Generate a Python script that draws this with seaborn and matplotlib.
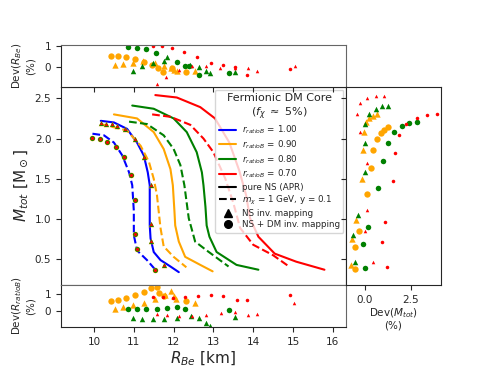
import numpy as np
import pandas as pd
import matplotlib
matplotlib.use("Agg")
import matplotlib.pyplot as plt
import seaborn as sns
from matplotlib.lines import Line2D

# ---- curvas M-R (R_Be en km, M_tot en M_sun)
r_ns_100 = [10.17, 10.5, 10.83, 11.08, 11.25, 11.35, 11.4, 11.4, 11.42, 11.5, 11.67, 11.92, 12.13]
m_ns_100 = [2.22, 2.20, 2.12, 1.95, 1.79, 1.58, 1.42, 0.92, 0.76, 0.59, 0.49, 0.41, 0.34]
r_dm_100 = [9.96, 10.25, 10.5, 10.71, 10.88, 10.96, 11.0, 11.0, 11.08, 11.33, 11.54]
m_dm_100 = [2.06, 2.04, 1.95, 1.79, 1.58, 1.42, 1.1, 0.80, 0.61, 0.49, 0.37]

r_ns_090 = [10.5, 11.08, 11.5, 11.75, 11.92, 11.98, 12.02, 12.04, 12.13, 12.29, 12.67, 12.98]
m_ns_090 = [2.30, 2.25, 2.08, 1.87, 1.62, 1.42, 1.1, 0.92, 0.72, 0.53, 0.43, 0.35]
r_dm_090 = [10.17, 10.83, 11.17, 11.38, 11.5, 11.58, 11.67, 11.75, 12.0, 12.32]
m_dm_090 = [2.18, 2.10, 1.91, 1.71, 1.50, 1.30, 0.89, 0.66, 0.53, 0.40]

r_ns_080 = [10.96, 11.5, 12.0, 12.33, 12.58, 12.71, 12.75, 12.8, 12.83, 12.9, 13.08, 13.58, 14.13]
m_ns_080 = [2.41, 2.37, 2.25, 2.08, 1.83, 1.58, 1.42, 1.15, 0.92, 0.78, 0.59, 0.43, 0.37]
r_dm_080 = [10.88, 11.33, 11.75, 12.0, 12.17, 12.27, 12.38, 12.54, 12.83, 13.38]
m_dm_080 = [2.21, 2.18, 2.04, 1.87, 1.67, 1.42, 1.01, 0.72, 0.61, 0.41]

r_ns_070 = [11.54, 12.08, 12.67, 13.04, 13.4, 13.65, 13.82, 13.92, 14.13, 14.54, 15.08, 15.79]
m_ns_070 = [2.54, 2.51, 2.39, 2.25, 1.95, 1.6, 1.3, 1.01, 0.78, 0.57, 0.47, 0.37]
r_dm_070 = [11.46, 11.92, 12.42, 12.75, 13.0, 13.3, 13.5, 13.67, 14.0, 14.5, 14.9]
m_dm_070 = [2.30, 2.27, 2.17, 2.0, 1.83, 1.5, 1.2, 0.89, 0.68, 0.55, 0.41]

# ---- puntos del mapeo inverso (panel principal)
r_tri_main = [10.17, 10.3, 10.45, 10.58, 10.79, 11.02, 11.25, 11.42, 11.42, 11.42, 11.77]
m_tri_main = [2.19, 2.18, 2.18, 2.15, 2.12, 2.0, 1.77, 1.42, 0.94, 0.73, 0.43]
r_cir_main = [9.96, 10.15, 10.33, 10.54, 10.75, 10.92, 11.02, 11.04, 11.08, 11.54]
m_cir_main = [2.01, 1.99, 1.96, 1.89, 1.77, 1.55, 1.24, 0.81, 0.63, 0.37]

# ---- Dev(R_Be) (panel superior)
top_r_tri_090 = [10.52, 10.73, 10.98, 11.23, 11.52, 11.77, 11.94, 12.0, 12.08, 12.53]
top_d_tri_090 = [0.08, 0.13, 0.19, 0.29, 0.16, 0.05, -0.05, -0.16, -0.21, -0.21]
top_r_cir_090 = [10.42, 10.6, 10.81, 11.03, 11.25, 11.46, 11.6, 11.73, 11.96, 12.31]
top_d_cir_090 = [0.53, 0.53, 0.48, 0.37, 0.22, 0.10, -0.05, -0.24, -0.05, -0.27]
top_r_tri_080 = [10.98, 11.21, 11.48, 11.77, 11.83, 12.4, 12.64, 12.81, 12.92, 13.55]
top_d_tri_080 = [-0.19, 0.05, 0.19, 0.29, 0.45, 0.08, -0.03, -0.19, -0.29, -0.24]
top_r_cir_080 = [10.86, 11.07, 11.3, 11.56, 12.08, 12.29, 12.38, 12.63, 13.39]
top_d_cir_080 = [0.97, 0.92, 0.84, 0.68, 0.21, 0.05, 0.05, -0.40, -0.32]
top_r_tri_070 = [11.57, 11.82, 12.13, 12.46, 12.82, 13.17, 13.54, 13.88, 14.09, 15.04]
top_d_tri_070 = [-0.85, -0.48, -0.16, 0.05, 0.05, -0.05, -0.05, -0.08, -0.21, 0.03]
top_r_cir_070 = [11.48, 11.71, 11.96, 12.27, 12.59, 12.93, 13.25, 13.55, 13.85, 14.93]
top_d_cir_070 = [1.01, 1.01, 0.92, 0.70, 0.45, 0.19, 0.08, -0.03, -0.40, -0.10]

# ---- Dev(R_ratioB) (panel inferior)
bot_r_tri_090 = [10.52, 10.73, 10.98, 11.25, 11.52, 11.78, 11.94, 12.02, 12.06, 12.53]
bot_d_tri_090 = [0.12, 0.21, 0.31, 0.47, 0.70, 0.96, 1.15, 0.90, 0.70, 0.45]
bot_r_cir_090 = [10.42, 10.6, 10.81, 11.03, 11.25, 11.44, 11.57, 11.64, 11.75, 12.32]
bot_d_cir_090 = [0.57, 0.66, 0.78, 0.94, 1.13, 1.35, 1.39, 1.04, 0.90, 0.55]
bot_r_tri_080 = [10.98, 11.21, 11.48, 11.77, 12.08, 12.43, 12.63, 12.81, 12.92, 13.55]
bot_d_tri_080 = [-0.47, -0.51, -0.53, -0.51, -0.47, -0.35, -0.44, -0.76, -0.90, -0.41]
bot_r_cir_080 = [10.86, 11.07, 11.3, 11.57, 11.83, 12.08, 12.29, 13.39]
bot_d_cir_080 = [0.12, 0.10, 0.10, 0.12, 0.18, 0.21, 0.08, 0.06]
bot_r_tri_070 = [11.57, 11.83, 12.13, 12.46, 12.82, 13.19, 13.54, 13.88, 14.09, 15.03]
bot_d_tri_070 = [-0.18, -0.28, -0.32, -0.30, -0.24, -0.12, -0.08, -0.28, -0.20, 0.47]
bot_r_cir_070 = [11.48, 11.73, 11.98, 12.28, 12.6, 12.93, 13.25, 13.59, 13.85, 14.93]
bot_d_cir_070 = [0.84, 0.80, 0.76, 0.84, 0.90, 0.96, 0.86, 0.61, 0.62, 0.92]

# ---- Dev(M_tot) (panel derecho)
rt_d_tri_090 = [0.63, 0.42, 0.24, 0.05, -0.05, -0.13, -0.18, -0.51, -0.69, -0.78]
rt_m_tri_090 = [2.30, 2.28, 2.26, 2.20, 2.08, 1.86, 1.50, 0.99, 0.75, 0.43]
rt_d_cir_090 = [1.27, 1.05, 0.85, 0.63, 0.45, 0.31, 0.09, -0.33, -0.54, -0.54]
rt_m_cir_090 = [2.14, 2.11, 2.07, 2.00, 1.86, 1.64, 1.31, 0.85, 0.65, 0.38]
rt_d_tri_080 = [1.27, 0.92, 0.58, 0.24, 0.02, -0.02, 0.0, -0.36, -0.64, -0.54]
rt_m_tri_080 = [2.41, 2.40, 2.37, 2.31, 2.18, 1.95, 1.59, 1.05, 0.80, 0.46]
rt_d_cir_080 = [2.84, 2.41, 2.01, 1.60, 1.27, 1.0, 0.73, 0.15, -0.13, 0.02]
rt_m_cir_080 = [2.21, 2.19, 2.15, 2.08, 1.94, 1.72, 1.38, 0.90, 0.69, 0.39]
rt_d_tri_070 = [1.03, 0.6, 0.13, -0.27, -0.45, -0.27, 0.09, 0.09, -0.02, 0.42]
rt_m_tri_070 = [2.53, 2.53, 2.50, 2.44, 2.31, 2.08, 1.70, 1.11, 0.85, 0.47]
rt_d_cir_070 = [3.9, 3.39, 2.81, 2.23, 1.87, 1.63, 1.51, 1.10, 0.92, 1.21]
rt_m_cir_070 = [2.30, 2.29, 2.25, 2.18, 2.05, 1.82, 1.47, 0.96, 0.72, 0.40]

ratios = ["1.00", "0.90", "0.80", "0.70"]
colores = ["blue", "orange", "green", "red"]

sns.set_style("ticks")
plt.rcParams["font.family"] = ["DejaVu Sans"]

fig = plt.figure(figsize=(4.9, 3.68), dpi=100)
ax = fig.add_axes([0.1245, 0.2255, 0.5815, 0.538])
ax_top = fig.add_axes([0.1245, 0.7636, 0.5815, 0.1141], sharex=ax)
ax_bot = fig.add_axes([0.1245, 0.1114, 0.5815, 0.1141], sharex=ax)
ax_der = fig.add_axes([0.706, 0.2255, 0.194, 0.538], sharey=ax)

# curvas
curvas = [(r_ns_100, m_ns_100, r_dm_100, m_dm_100),
          (r_ns_090, m_ns_090, r_dm_090, m_dm_090),
          (r_ns_080, m_ns_080, r_dm_080, m_dm_080),
          (r_ns_070, m_ns_070, r_dm_070, m_dm_070)]
for (rn, mn, rd, md), c in zip(curvas, colores):
    sns.lineplot(x=rn, y=mn, color=c, lw=1.5, sort=False, estimator=None, ax=ax)
    sns.lineplot(x=rd, y=md, color=c, lw=1.5, ls="--", sort=False, estimator=None, ax=ax)

# tamaños de marcador por color
tam = {"orange": 16, "green": 12, "red": 5}

for c in ["orange", "green", "red"]:
    sns.scatterplot(x=r_tri_main, y=m_tri_main, marker="^", s=tam[c], color=c,
                    linewidth=0, ax=ax, zorder=3)
    sns.scatterplot(x=r_cir_main, y=m_cir_main, marker="o", s=tam[c], color=c,
                    linewidth=0, ax=ax, zorder=3)

paneles = {
    ax_top: [(top_r_tri_090, top_d_tri_090, top_r_cir_090, top_d_cir_090, "orange"),
             (top_r_tri_080, top_d_tri_080, top_r_cir_080, top_d_cir_080, "green"),
             (top_r_tri_070, top_d_tri_070, top_r_cir_070, top_d_cir_070, "red")],
    ax_bot: [(bot_r_tri_090, bot_d_tri_090, bot_r_cir_090, bot_d_cir_090, "orange"),
             (bot_r_tri_080, bot_d_tri_080, bot_r_cir_080, bot_d_cir_080, "green"),
             (bot_r_tri_070, bot_d_tri_070, bot_r_cir_070, bot_d_cir_070, "red")],
    ax_der: [(rt_d_tri_090, rt_m_tri_090, rt_d_cir_090, rt_m_cir_090, "orange"),
             (rt_d_tri_080, rt_m_tri_080, rt_d_cir_080, rt_m_cir_080, "green"),
             (rt_d_tri_070, rt_m_tri_070, rt_d_cir_070, rt_m_cir_070, "red")],
}
for a, series in paneles.items():
    for xt, yt, xc, yc, c in series:
        sns.scatterplot(x=xt, y=yt, marker="^", s=tam[c] * 1.3, color=c, linewidth=0, ax=a)
        sns.scatterplot(x=xc, y=yc, marker="o", s=tam[c] * 1.3, color=c, linewidth=0, ax=a)

# ejes
ax.set_xlim(9.17, 16.33)
ax.set_ylim(0.18, 2.64)
ax.set_yticks([0.5, 1.0, 1.5, 2.0, 2.5])
ax.set_xticks(range(10, 17))
ax.tick_params(labelbottom=False, labelsize=7.5)
ax.set_ylabel(r"$M_{tot}$ [M$_\odot$]", fontsize=11)
ax.yaxis.set_label_coords(-0.11, 0.5)

ax_top.set_ylim(-0.98, 1.05)
ax_top.set_yticks([0, 1])
ax_top.tick_params(labelbottom=False, labelsize=7.5)
ax_top.set_ylabel("Dev($R_{Be}$)\n(%)", fontsize=7.5)
ax_top.yaxis.set_label_coords(-0.09, 0.5)

ax_bot.set_ylim(-0.98, 1.53)
ax_bot.set_yticks([0, 1])
ax_bot.tick_params(labelsize=7.5)
ax_bot.set_ylabel("Dev($R_{ratioB}$)\n(%)", fontsize=7.5)
ax_bot.yaxis.set_label_coords(-0.09, 0.5)
ax_bot.set_xlabel(r"$R_{Be}$ [km]", fontsize=11, labelpad=2)

ax_der.set_xlim(-1.03, 4.13)
ax_der.set_xticks([0, 2.5])
ax_der.set_xticklabels(["0.0", "2.5"])
ax_der.tick_params(labelleft=False, labelsize=7.5)
ax_der.set_xlabel("Dev($M_{tot}$)\n(%)", fontsize=7.5, labelpad=1, linespacing=1.1)

for a in [ax_top, ax_bot]:
    a.spines["top"].set_color("0.4")
    a.spines["right"].set_color("0.4")

# leyenda
handles = [Line2D([], [], color=c, lw=1.5) for c in colores]
labels = [r"$r_{ratioB}$ = " + r for r in ratios]
handles += [Line2D([], [], color="black", lw=1.5),
            Line2D([], [], color="black", lw=1.5, ls="--"),
            Line2D([], [], color="black", marker="^", ls="", ms=5.5),
            Line2D([], [], color="black", marker="o", ls="", ms=5.5)]
labels += ["pure NS (APR)", r"$m_\chi$ = 1 GeV, y = 0.1",
           "NS inv. mapping", "NS + DM inv. mapping"]
leg = ax.legend(handles, labels, loc="upper right", fontsize=6.3,
                title="Fermionic DM Core\n($f_\\chi$ $\\approx$ 5%)",
                title_fontsize=8, borderaxespad=0.3, handlelength=2.0,
                handletextpad=0.6, labelspacing=0.25, frameon=True, framealpha=0.8)
leg.get_title().set_multialignment("center")

plt.savefig("out.png", dpi=100)
